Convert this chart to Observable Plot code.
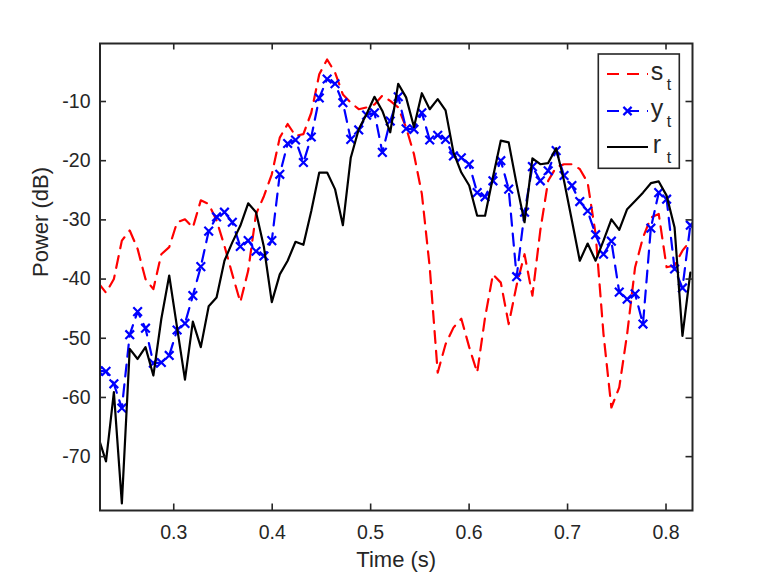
<!DOCTYPE html>
<html>
<head>
<meta charset="utf-8">
<script src="https://cdn.jsdelivr.net/npm/d3@7"></script>
<script src="https://cdn.jsdelivr.net/npm/@observablehq/plot@0.6"></script>
<style>
  html, body { margin: 0; padding: 0; background: #fff; }
  #chart { width: 764px; height: 573px; }
</style>
</head>
<body>
<div id="chart"></div>
<script>
// Sample times (s)
const times = [
  0.2232, 0.2312, 0.2392, 0.2473, 0.2553, 0.2633, 0.2713, 0.2793, 0.2874, 0.2954,
  0.3034, 0.3114, 0.3194, 0.3275, 0.3355, 0.3435, 0.3515, 0.3595, 0.3676, 0.3756,
  0.3836, 0.3916, 0.3996, 0.4077, 0.4157, 0.4237, 0.4317, 0.4397, 0.4478, 0.4558,
  0.4638, 0.4718, 0.4798, 0.4879, 0.4959, 0.5039, 0.5119, 0.5199, 0.5280, 0.5360,
  0.5440, 0.5520, 0.5600, 0.5681, 0.5761, 0.5841, 0.5921, 0.6001, 0.6082, 0.6162,
  0.6242, 0.6322, 0.6402, 0.6483, 0.6563, 0.6643, 0.6723, 0.6803, 0.6884, 0.6964,
  0.7044, 0.7124, 0.7204, 0.7285, 0.7365, 0.7445, 0.7525, 0.7605, 0.7686, 0.7766,
  0.7846, 0.7926, 0.8006, 0.8087, 0.8167, 0.8247
];
// s_t (dB)
const sValues = [
  -40.6, -42.3, -40.0, -33.5, -31.8, -34.9, -40.0, -41.7, -35.8, -34.6,
  -30.4, -29.9, -31.3, -26.7, -27.3, -30.1, -34.4, -39.2, -43.9, -38.6,
  -29.0, -26.0, -22.3, -16.1, -13.8, -15.8, -15.5, -11.9, -5.4, -2.9,
  -5.1, -8.8, -10.2, -11.3, -11.0, -10.5, -9.0, -9.9, -11.0, -14.4,
  -18.9, -25.6, -38.0, -55.8, -51.0, -48.2, -46.7, -51.5, -55.8, -46.5,
  -39.2, -40.6, -47.6, -41.0, -35.8, -42.8, -31.8, -23.4, -21.1, -20.6,
  -20.6, -21.4, -23.7, -32.4, -49.3, -61.7, -58.3, -49.3, -38.0, -33.0,
  -29.6, -29.0, -38.0, -37.7, -35.2, -33.5
];
// y_t (dB)
const yValues = [
  -55.5, -55.6, -57.7, -61.8, -49.4, -45.5, -48.3, -54.2, -54.1, -52.9,
  -48.6, -47.5, -42.8, -37.9, -31.9, -29.5, -28.7, -30.4, -34.5, -33.5,
  -35.3, -36.1, -33.5, -22.3, -17.1, -16.5, -20.3, -16.0, -9.4, -6.2,
  -7.0, -10.2, -16.4, -14.8, -12.3, -11.9, -18.6, -13.3, -9.2, -14.6,
  -14.7, -11.9, -16.5, -15.7, -16.4, -19.2, -19.5, -20.6, -25.4, -26.1,
  -23.4, -20.0, -24.8, -39.6, -28.7, -21.0, -23.4, -21.7, -18.3, -22.5,
  -24.2, -26.9, -28.5, -32.5, -35.8, -33.6, -42.2, -43.4, -42.5, -47.6,
  -31.4, -25.4, -26.5, -38.3, -41.5, -30.9
];
// r_t (dB)
const rValues = [
  -66.6, -70.8, -59.1, -77.9, -51.8, -53.5, -51.5, -56.3, -46.7, -39.4,
  -48.2, -57.0, -47.2, -51.5, -44.6, -43.1, -36.9, -33.8, -31.0, -27.2,
  -28.7, -34.6, -43.9, -39.2, -36.9, -33.7, -34.2, -28.5, -22.0, -22.0,
  -24.8, -30.9, -19.5, -14.7, -12.1, -9.2, -11.6, -15.2, -7.0, -9.3,
  -14.3, -8.6, -11.3, -9.6, -11.5, -18.6, -22.0, -24.2, -29.3, -29.3,
  -22.8, -16.6, -16.9, -24.0, -30.4, -19.6, -20.6, -20.4, -17.9, -23.4,
  -30.1, -36.9, -34.0, -36.9, -33.5, -29.9, -31.7, -28.2, -26.8, -25.4,
  -23.8, -23.5, -25.9, -31.3, -49.6, -38.9
];
const xTicks = [0.3, 0.4, 0.5, 0.6, 0.7, 0.8];
const yTicks = [-70, -60, -50, -40, -30, -20, -10];
const xDomain = [0.2251, 0.8269];
const yDomain = [-79.1, -0.2];

const sRows = times.map((t, i) => ({t, v: sValues[i]}));
const yRows = times.map((t, i) => ({t, v: yValues[i]}));
const rRows = times.map((t, i) => ({t, v: rValues[i]}));

const W = 764, H = 573;
const mL = 99.5, mR = 72, mT = 43, mB = 63;
const innerW = W - mL - mR, innerH = H - mT - mB;
const tickLen = 6.5;
const axisColor = "#262626";
const font = "'Liberation Sans', Arial, Helvetica, sans-serif";
const RED = "#ff0000", BLUE = "#0000ff", BLACK = "#000000";
const LW = 2.2, DASH = "12,8";

const chart = Plot.plot({
  width: W, height: H,
  marginLeft: mL, marginRight: mR, marginTop: mT, marginBottom: mB,
  style: {background: "#fff", fontFamily: font, overflow: "visible"},
  x: {domain: xDomain},
  y: {domain: yDomain},
  marks: [
    Plot.line(sRows, {x: "t", y: "v", stroke: RED, strokeWidth: LW, strokeDasharray: DASH, clip: true}),
    Plot.line(yRows, {x: "t", y: "v", stroke: BLUE, strokeWidth: LW, strokeDasharray: DASH, clip: true}),
    Plot.dot(yRows, {x: "t", y: "v", symbol: "times", r: 4, stroke: BLUE, strokeWidth: LW, clip: true}),
    Plot.line(rRows, {x: "t", y: "v", stroke: BLACK, strokeWidth: LW, clip: true}),
    // inward ticks on all four sides
    Plot.ruleX(xTicks, {x: d => d, insetTop: innerH - tickLen, stroke: axisColor, strokeWidth: 1.6}),
    Plot.ruleX(xTicks, {x: d => d, insetBottom: innerH - tickLen, stroke: axisColor, strokeWidth: 1.6}),
    Plot.ruleY(yTicks, {y: d => d, insetRight: innerW - tickLen, stroke: axisColor, strokeWidth: 1.6}),
    Plot.ruleY(yTicks, {y: d => d, insetLeft: innerW - tickLen, stroke: axisColor, strokeWidth: 1.6}),
    Plot.frame({stroke: axisColor, strokeWidth: 2}),
    Plot.axisX(xTicks, {tickSize: 0, tickPadding: 14.5, tickFormat: d => d.toFixed(1), fontSize: 19.5, color: axisColor, label: null}),
    Plot.axisY(yTicks, {tickSize: 0, tickPadding: 9.5, tickFormat: d => String(d), fontSize: 19.5, color: axisColor, label: null}),
    Plot.text(["Time (s)"], {text: d => d, frameAnchor: "bottom", lineAnchor: "middle", dy: 49, fontSize: 22, fill: axisColor}),
    Plot.text(["Power (dB)"], {text: d => d, frameAnchor: "left", lineAnchor: "middle", dx: -59.5, rotate: -90, fontSize: 22, fill: axisColor})
  ]
});
document.getElementById("chart").appendChild(chart);

// Legend (MATLAB-style box in the upper-right corner)
const svg = d3.select(chart);
const lg = svg.append("g").attr("font-family", font);
lg.append("rect").attr("x", 598.3).attr("y", 54).attr("width", 81).attr("height", 114.3)
  .attr("fill", "#fff").attr("stroke", axisColor).attr("stroke-width", 1.6);
const entries = [
  {name: "s", color: RED, dash: DASH, marker: false, y: 74},
  {name: "y", color: BLUE, dash: DASH, marker: true, y: 111},
  {name: "r", color: BLACK, dash: null, marker: false, y: 147}
];
entries.forEach(e => {
  lg.append("line").attr("x1", 607).attr("x2", 648).attr("y1", e.y).attr("y2", e.y)
    .attr("stroke", e.color).attr("stroke-width", LW).attr("stroke-dasharray", e.dash);
  if (e.marker) {
    const s = 4.1;
    lg.append("path").attr("d", `M${627.5 - s},${e.y - s}L${627.5 + s},${e.y + s}M${627.5 - s},${e.y + s}L${627.5 + s},${e.y - s}`)
      .attr("stroke", e.color).attr("stroke-width", LW).attr("fill", "none");
  }
  lg.append("text").attr("x", 657).attr("y", e.y + 5.8).attr("font-size", 25).attr("fill", axisColor).text(e.name);
  lg.append("text").attr("x", 669).attr("y", e.y + 16).attr("font-size", 16).attr("fill", axisColor).text("t");
});
</script>
</body>
</html>
